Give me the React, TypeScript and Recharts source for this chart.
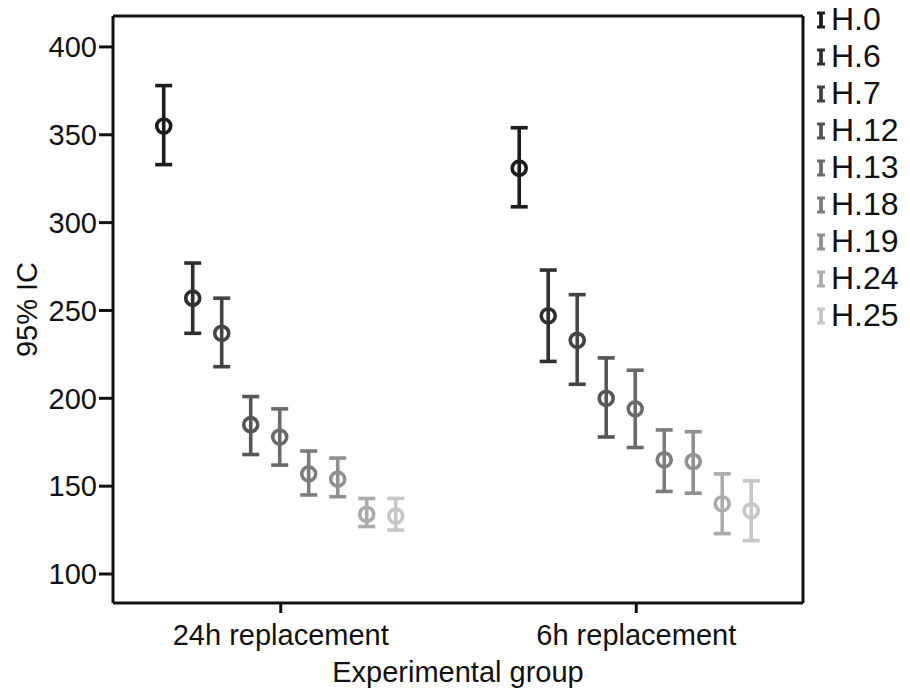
import { ComposedChart, Bar, ErrorBar, XAxis, YAxis, Legend, CartesianGrid } from "recharts";

const groups = ["24h replacement", "6h replacement"];
const seriesNames = ["H.0", "H.6", "H.7", "H.12", "H.13", "H.18", "H.19", "H.24", "H.25"];
const seriesColors = ["#1c1c1c", "#2f2f2f", "#444444", "#565656", "#6a6a6a", "#7d7d7d", "#909090", "#ababab", "#c6c6c6"];

// mean and 95% CI bounds, per group
const mean24h = [355, 257, 237, 185, 178, 157, 154, 134, 133];
const lower24h = [333, 237, 218, 168, 162, 145, 144, 127, 125];
const upper24h = [378, 277, 257, 201, 194, 170, 166, 143, 143];
const mean6h = [331, 247, 233, 200, 194, 165, 164, 140, 136];
const lower6h = [309, 221, 208, 178, 172, 147, 146, 123, 119];
const upper6h = [354, 273, 259, 223, 216, 182, 181, 157, 153];

const yTicks = [100, 150, 200, 250, 300, 350, 400];

const FONT = "'Liberation Sans', Arial, sans-serif";
const INK = "#111";

const means = [mean24h, mean6h];
const lowers = [lower24h, lower6h];
const uppers = [upper24h, upper6h];

const data = groups.map((g, gi) => {
  const row: Record<string, any> = { group: g };
  seriesNames.forEach((s, si) => {
    const m = means[gi][si];
    row[s] = m;
    row[s + "_ci"] = [m - lowers[gi][si], uppers[gi][si] - m];
  });
  return row;
});

function Marker(props: any) {
  const { x, y, width, fill } = props;
  if (x == null || y == null) return null;
  return <circle cx={x + width / 2} cy={y} r={7} fill="none" stroke={fill} strokeWidth={3.6} />;
}

function LegendBox({ payload }: { payload?: any[] }) {
  if (!payload) return null;
  const items = [...payload].sort(
    (a, b) => seriesNames.indexOf(a.value) - seriesNames.indexOf(b.value)
  );
  return (
    <div style={{ fontFamily: FONT, fontSize: 32, color: INK, lineHeight: "37px" }}>
      {items.map((p) => (
        <div key={p.value} style={{ display: "flex", alignItems: "center", height: 37 }}>
          <svg width={10} height={18} style={{ marginRight: 5 }}>
            <line x1={5} y1={2} x2={5} y2={16} stroke={p.color} strokeWidth={3.8} />
            <line x1={1} y1={2} x2={9} y2={2} stroke={p.color} strokeWidth={3} />
            <line x1={1} y1={16} x2={9} y2={16} stroke={p.color} strokeWidth={3} />
          </svg>
          <span>{p.value}</span>
        </div>
      ))}
    </div>
  );
}

export default function App() {
  return (
    <ComposedChart
      width={902}
      height={680}
      data={data}
      margin={{ top: 8, right: 107, bottom: 0, left: 0 }}
      barCategoryGap="13%"
      barGap={0}
    >
      {/* top and right edges of the frame */}
      <CartesianGrid
        stroke={INK}
        strokeWidth={3}
        horizontalCoordinatesGenerator={({ offset }: any) => [offset.top]}
        verticalCoordinatesGenerator={({ offset }: any) => [offset.left + offset.width]}
      />
      <XAxis
        dataKey="group"
        height={85}
        padding={{ left: -10, right: -11 }}
        axisLine={{ stroke: INK, strokeWidth: 3 }}
        tickLine={{ stroke: INK, strokeWidth: 3 }}
        tickSize={10}
        tickMargin={11}
        tick={{ fill: INK, fontSize: 29, fontFamily: FONT }}
        label={{
          value: "Experimental group",
          position: "insideBottom",
          offset: 6,
          style: { fill: INK, fontSize: 29, fontFamily: FONT },
        }}
      />
      <YAxis
        width={105}
        domain={[83.5, 417.6]}
        ticks={yTicks}
        allowDataOverflow
        axisLine={{ stroke: INK, strokeWidth: 3 }}
        tickLine={{ stroke: INK, strokeWidth: 3 }}
        tickSize={14}
        tickMargin={2}
        tick={{ fill: INK, fontSize: 29, fontFamily: FONT }}
        label={{
          value: "95% IC",
          angle: -90,
          position: "insideLeft",
          offset: 19,
          style: { fill: INK, fontSize: 29, fontFamily: FONT, textAnchor: "middle" },
        }}
      />
      <Legend
        layout="vertical"
        align="center"
        verticalAlign="middle"
        wrapperStyle={{ left: 808, top: -7, width: 102 }}
        content={<LegendBox />}
      />
      {seriesNames.map((s, i) => (
        <Bar
          key={s}
          dataKey={s}
          name={s}
          fill={seriesColors[i]}
          shape={<Marker />}
          isAnimationActive={false}
        >
          <ErrorBar dataKey={s + "_ci"} width={8.5} stroke={seriesColors[i]} strokeWidth={3.6} />
        </Bar>
      ))}
    </ComposedChart>
  );
}
